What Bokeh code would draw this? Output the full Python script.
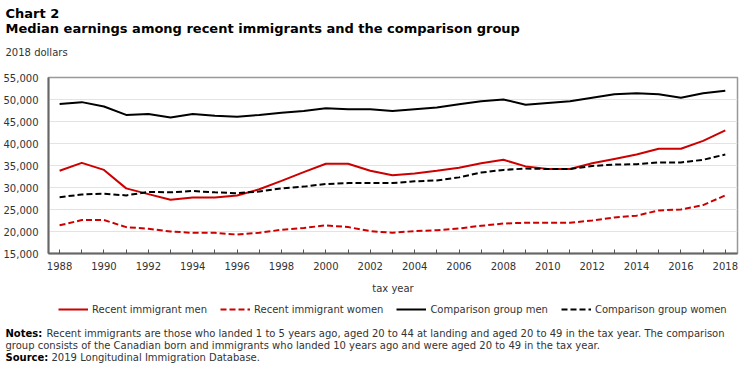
from bokeh.plotting import figure
from bokeh.layouts import column
from bokeh.models import (Range1d, FixedTicker, NumeralTickFormatter, Legend, LegendItem, Label)
from bokeh.embed import file_html
from bokeh.resources import INLINE

years = list(range(1988, 2019))
recent_men = [33800, 35600, 34000, 29800, 28500, 27200, 27700, 27700, 28200, 29600,
              31500, 33500, 35400, 35400, 33800, 32800, 33200, 33800, 34500, 35500,
              36300, 34800, 34200, 34200, 35500, 36500, 37500, 38800, 38800, 40600, 43000]
recent_women = [21400, 22600, 22600, 21000, 20600, 20000, 19700, 19700, 19300, 19700,
                20400, 20800, 21400, 21000, 20100, 19700, 20100, 20300, 20700, 21300,
                21800, 22000, 22000, 22000, 22500, 23200, 23600, 24800, 25000, 26000, 28200]
comp_men = [49000, 49400, 48400, 46500, 46700, 45900, 46700, 46300, 46100, 46500,
            47000, 47400, 48000, 47800, 47800, 47400, 47800, 48200, 48900, 49600,
            50000, 48800, 49200, 49600, 50400, 51200, 51400, 51200, 50400, 51400, 52000]
comp_women = [27800, 28400, 28600, 28200, 29000, 28900, 29200, 28900, 28700, 29100,
              29800, 30200, 30800, 31000, 31000, 31000, 31400, 31600, 32300, 33400,
              34000, 34300, 34200, 34200, 34900, 35200, 35300, 35700, 35700, 36300, 37500]
series_names = ["Recent immigrant men", "Recent immigrant women",
                "Comparison group men", "Comparison group women"]
y_ticks = [15000, 20000, 25000, 30000, 35000, 40000, 45000, 50000, 55000]

title1 = "Chart 2"
title2 = "Median earnings among recent immigrants and the comparison group"
unit_label = "2018 dollars"
x_label = "tax year"
notes_head = "Notes:"
notes_1 = "Recent immigrants are those who landed 1 to 5 years ago, aged 20 to 44 at landing and aged 20 to 49 in the tax year. The comparison"
notes_2 = "group consists of the Canadian born and immigrants who landed 10 years ago and were aged 20 to 49 in the tax year."
source_head = "Source:"
source = "2019 Longitudinal  Immigration Database."

FONT = "DejaVu Sans"
RED = "#cc0000"
BLACK = "#000000"
TXT = "#333333"
W = 745
NAN = float("nan")

styles = [(recent_men, RED, "solid"), (recent_women, RED, "6 3"),
          (comp_men, BLACK, "solid"), (comp_women, BLACK, "6 3")]


def blank(h):
    f = figure(width=W, height=h, output_backend="svg", toolbar_location=None,
               x_range=Range1d(0, W), y_range=Range1d(0, h),
               x_axis_type=None, y_axis_type=None, frame_align=False,
               min_border_left=0, min_border_right=0, min_border_top=0, min_border_bottom=0)
    f.outline_line_color = None
    f.grid.visible = False
    return f


def lab(f, text, x, y, size="10px", bold=False, color=TXT):
    f.add_layout(Label(x=x, y=y, text=text,
                       text_font=FONT, text_font_size=size,
                       text_font_style="bold" if bold else "normal",
                       text_color=color, text_baseline="middle", text_align="left"))


# ---- header ----
HH = 70
header = blank(HH)
lab(header, title1, 5, HH - 13, "13px", True, "#000000")
lab(header, title2, 5, HH - 28, "13px", True, "#000000")
lab(header, unit_label, 5, HH - 52, "10px", False, TXT)

# ---- main chart ----
p = figure(width=W, height=228, output_backend="svg", toolbar_location=None,
           x_range=Range1d(1987.5, 2018.55), y_range=Range1d(15000, 55000),
           frame_align=False,
           min_border_left=48, min_border_right=8, min_border_top=7, min_border_bottom=45)

p.outline_line_color = "#999999"
p.outline_line_width = 1.5
p.xgrid.grid_line_color = None
p.ygrid.grid_line_color = "#e3e3e3"
p.ygrid.grid_line_width = 1
p.ygrid.ticker = FixedTicker(ticks=y_ticks)

for vals, col, dash in styles:
    p.line(years, vals, line_color=col, line_width=2, line_dash=dash)

xa = p.xaxis[0]
xa.ticker = FixedTicker(ticks=[y for y in years if y % 2 == 0],
                        minor_ticks=[y for y in years if y % 2 == 1])
xa.major_tick_in = 4
xa.major_tick_out = 0
xa.minor_tick_in = 4
xa.minor_tick_out = 0
xa.major_tick_line_color = "#555555"
xa.minor_tick_line_color = "#555555"
xa.axis_line_color = "#666666"
xa.axis_line_width = 2
xa.major_label_text_font = FONT
xa.major_label_text_font_size = "10px"
xa.major_label_text_color = TXT
xa.major_label_standoff = 8
xa.axis_label = x_label
xa.axis_label_text_font = FONT
xa.axis_label_text_font_size = "10px"
xa.axis_label_text_font_style = "normal"
xa.axis_label_text_color = TXT
xa.axis_label_standoff = 10

ya = p.yaxis[0]
ya.ticker = FixedTicker(ticks=y_ticks)
ya.formatter = NumeralTickFormatter(format="0,0")
ya.major_tick_in = 0
ya.major_tick_out = 0
ya.minor_tick_in = 0
ya.minor_tick_out = 0
ya.axis_line_color = "#666666"
ya.axis_line_width = 2
ya.major_label_text_font = FONT
ya.major_label_text_font_size = "10px"
ya.major_label_text_color = TXT
ya.major_label_standoff = 10

# ---- footer: legend + notes ----
FH = 66
footer = blank(FH)
leg_renderers = [footer.line([NAN], [NAN], line_color=col, line_width=2, line_dash=dash)
                 for _, col, dash in styles]
items = [LegendItem(label=n, renderers=[r]) for n, r in zip(series_names, leg_renderers)]
legend = Legend(items=items, orientation="horizontal", location=(58, 49),
                border_line_color=None, background_fill_alpha=0,
                label_text_font=FONT, label_text_font_size="10px", label_text_color=TXT,
                glyph_width=30, glyph_height=12, label_height=12, label_standoff=4,
                spacing=13, padding=5, margin=0)
footer.add_layout(legend, "center")

lab(footer, notes_head, 5, FH - 35, "10px", True, "#000000")
lab(footer, notes_1, 46, FH - 35)
lab(footer, notes_2, 5, FH - 47)
lab(footer, source_head, 5, FH - 59, "10px", True, "#000000")
lab(footer, source, 51, FH - 59)

layout = column(header, p, footer, spacing=0)
open("out.html", "w").write(file_html(layout, INLINE))
